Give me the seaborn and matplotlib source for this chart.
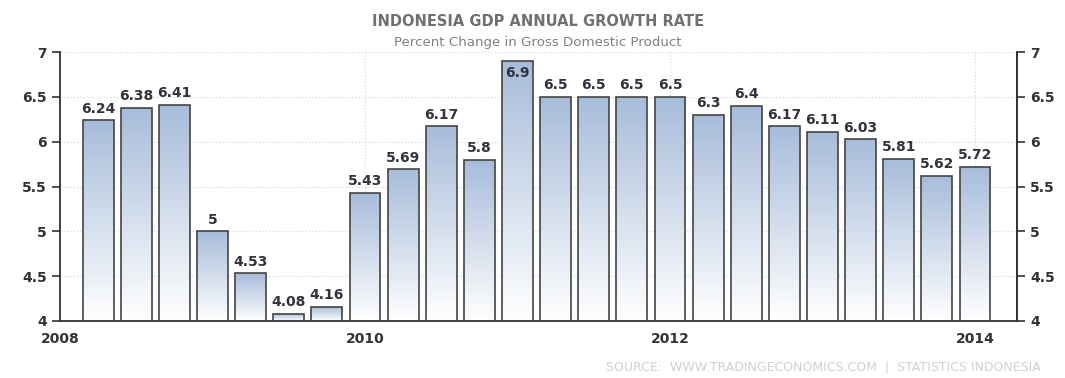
import numpy as np
import pandas as pd
import matplotlib
matplotlib.use("Agg")
import matplotlib.pyplot as plt
import seaborn as sns
from matplotlib.colors import LinearSegmentedColormap

# ---- data ----
quarters = [2008.25 + 0.25 * i for i in range(24)]
growth = [6.24, 6.38, 6.41, 5.00, 4.53, 4.08, 4.16, 5.43, 5.69, 6.17, 5.80, 6.90,
          6.50, 6.50, 6.50, 6.50, 6.30, 6.40, 6.17, 6.11, 6.03, 5.81, 5.62, 5.72]
labels = ["6.24", "6.38", "6.41", "5", "4.53", "4.08", "4.16", "5.43", "5.69", "6.17", "5.8", "6.9",
          "6.5", "6.5", "6.5", "6.5", "6.3", "6.4", "6.17", "6.11", "6.03", "5.81", "5.62", "5.72"]
year_ticks = [2008, 2010, 2012, 2014]
y_ticks = [4, 4.5, 5, 5.5, 6, 6.5, 7]
y_tick_labels = ["4", "4.5", "5", "5.5", "6", "6.5", "7"]

df = pd.DataFrame({"quarter": quarters, "growth": growth})

sns.set_style("white")
plt.rcParams["font.family"] = ["DejaVu Sans"]

fig = plt.figure(figsize=(10.65, 3.78), dpi=100)
ax = fig.add_axes([0.0563, 0.1508, 0.8986, 0.7116])

sns.barplot(data=df, x="quarter", y="growth", native_scale=True, width=0.81,
            color="#b0c4de", edgecolor="#444444", linewidth=1.2, ax=ax, zorder=3)

# gradient fill inside each bar
grad = np.linspace(0, 1, 256).reshape(-1, 1)
cmap = LinearSegmentedColormap.from_list("g", ["#ffffff", "#a7bcda"])
for p in list(ax.patches):
    x0, y0 = p.get_x(), p.get_y()
    w, h = p.get_width(), p.get_height()
    p.set_facecolor("none")
    im = ax.imshow(grad, extent=[x0, x0 + w, 4, y0 + h], origin="lower",
                   cmap=cmap, aspect="auto", zorder=2.5, interpolation="bilinear")
    im.set_clip_path(p)

ax.set_xlim(2008, 2014.275)
ax.set_ylim(4, 7)

# value labels (inside the bar when it reaches near the top)
for q, v, lab in zip(quarters, growth, labels):
    if v > 6.8:
        ax.text(q, v - 0.06, lab, ha="center", va="top", fontsize=10,
                fontweight="bold", color="#33333f", zorder=4)
    else:
        ax.text(q, v + 0.05, lab, ha="center", va="bottom", fontsize=10,
                fontweight="bold", color="#33333f", zorder=4)

# grid / ticks
ax.set_yticks(y_ticks)
ax.set_yticklabels(y_tick_labels)
ax.set_xticks(year_ticks)
ax.set_xticklabels([str(y) for y in year_ticks])
ax.grid(True, which="major", axis="both", color="#d8d8d8", linestyle=":", linewidth=0.9, zorder=0)
ax.set_axisbelow(True)
ax.set_xlabel("")
ax.set_ylabel("")

ax.spines["top"].set_visible(False)
for s in ["left", "bottom", "right"]:
    ax.spines[s].set_color("#333333")
    ax.spines[s].set_linewidth(1.3)

ax.tick_params(axis="y", which="major", direction="out", length=6, width=1.2,
               colors="#333333", labelsize=10)
ax.tick_params(axis="x", which="major", direction="out", length=4, width=1.2,
               colors="#333333", labelsize=10, pad=4)
for t in ax.get_yticklabels() + ax.get_xticklabels():
    t.set_fontweight("bold")

ax2 = ax.twinx()
ax2.set_ylim(4, 7)
ax2.set_yticks(y_ticks)
ax2.set_yticklabels(y_tick_labels)
ax2.tick_params(axis="y", direction="out", length=6, width=1.2, colors="#333333", labelsize=10)
for t in ax2.get_yticklabels():
    t.set_fontweight("bold")
for s in ["top", "left", "bottom"]:
    ax2.spines[s].set_visible(False)
ax2.spines["right"].set_color("#333333")
ax2.spines["right"].set_linewidth(1.3)

fig.text(0.505, 0.942, "INDONESIA GDP ANNUAL GROWTH RATE", ha="center", va="center",
         fontsize=10.5, fontweight="bold", color="#707070")
fig.text(0.505, 0.887, "Percent Change in Gross Domestic Product", ha="center", va="center",
         fontsize=9.6, color="#808080")
fig.text(0.977, 0.012, "SOURCE:  WWW.TRADINGECONOMICS.COM  |  STATISTICS INDONESIA",
         ha="right", va="bottom", fontsize=9, color="#d0d0d0")

fig.savefig("out.png", dpi=100, facecolor="white")
